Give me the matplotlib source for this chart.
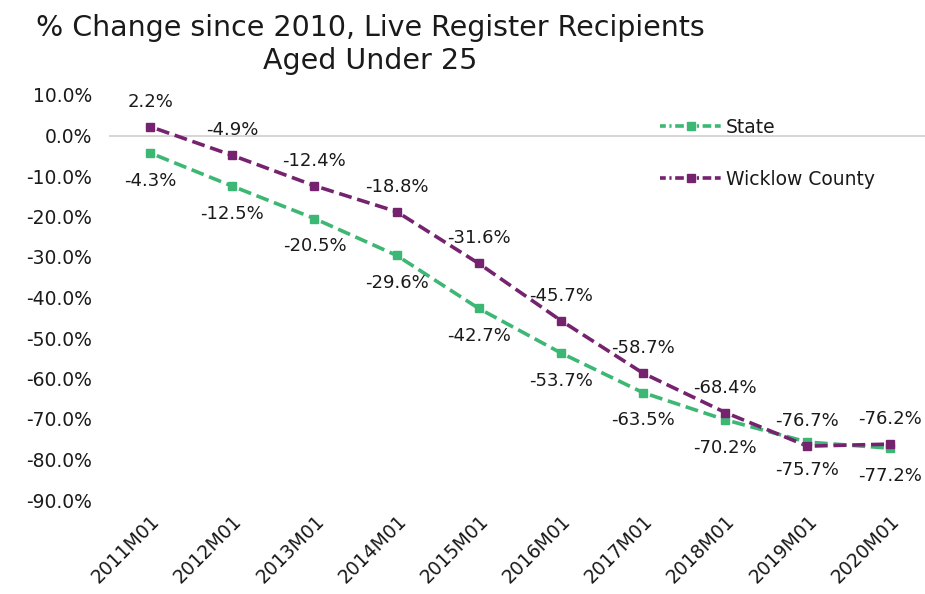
import matplotlib
matplotlib.use('Agg')
import matplotlib.pyplot as plt
from matplotlib.lines import Line2D

# data
periods = ['2011M01', '2012M01', '2013M01', '2014M01', '2015M01',
           '2016M01', '2017M01', '2018M01', '2019M01', '2020M01']
state = [-4.3, -12.5, -20.5, -29.6, -42.7, -53.7, -63.5, -70.2, -75.7, -77.2]
wicklow = [2.2, -4.9, -12.4, -18.8, -31.6, -45.7, -58.7, -68.4, -76.7, -76.2]
yticks = list(range(10, -100, -10))

plt.rcParams['font.family'] = ['DejaVu Sans']
plt.rcParams['text.color'] = '#1a1a1a'
green = '#3CB774'
purple = '#76236F'
# excel-style: every segment starts with a dot, then long dashes
dash = (0, (0.6, 1.4) + (3.6, 1.6) * 12)
lw = 2.6
ms = 5.6

fig = plt.figure(figsize=(9.25, 5.94), dpi=100)
ax = fig.add_axes([109 / 925, 1 - 500 / 594, 1 - 109 / 925, (500 - 95) / 594])

x = list(range(len(periods)))
for vals, col in [(state, green), (wicklow, purple)]:
    for i in range(len(x) - 1):
        ax.plot(x[i:i + 2], vals[i:i + 2], color=col, linestyle=dash,
                linewidth=lw, solid_capstyle='butt', dash_capstyle='butt')
    ax.plot(x, vals, color=col, linestyle='none', marker='s', markersize=ms, zorder=3)

for i in x:
    ax.annotate(f'{wicklow[i]:.1f}%', (i, wicklow[i]), xytext=(0, 18),
                textcoords='offset points', ha='center', va='center', fontsize=13)
    ax.annotate(f'{state[i]:.1f}%', (i, state[i]), xytext=(0, -20),
                textcoords='offset points', ha='center', va='center', fontsize=13)

ax.axhline(0, color='#d0d0d0', linewidth=1.2, zorder=0)
ax.set_xlim(-0.5, 9.43)
ax.set_ylim(-90, 10)
ax.set_yticks(yticks)
ax.set_yticklabels([f'{v:.1f}%' for v in yticks])
ax.set_xticks(x)
ax.set_xticklabels(periods, rotation=45, ha='right', rotation_mode='anchor')
ax.tick_params(axis='y', length=0, labelsize=13.5, pad=12, labelcolor='#1a1a1a')
ax.tick_params(axis='x', length=0, labelsize=13.5, pad=8, labelcolor='#1a1a1a')
for s in ax.spines.values():
    s.set_visible(False)

handles = [Line2D([], [], color=green, linestyle=(0, (1.6, 1.0, 0.6, 1.0, 2.4, 1.0)),
                  linewidth=lw, marker='s', markersize=ms),
           Line2D([], [], color=purple, linestyle=(0, (1.6, 1.0, 0.6, 1.0, 2.4, 1.0)),
                  linewidth=lw, marker='s', markersize=ms)]
ax.legend(handles, ['State', 'Wicklow County'], loc='upper left',
          bbox_to_anchor=(0.655, 0.985), frameon=False, fontsize=13.5,
          labelspacing=1.75, handlelength=3.3, handletextpad=0.2)

fig.text(370 / 925, 1 - 28 / 594, '% Change since 2010, Live Register Recipients',
         ha='center', va='center', fontsize=20.5)
fig.text(370 / 925, 1 - 61 / 594, 'Aged Under 25', ha='center', va='center', fontsize=20.5)

fig.savefig('out.png', dpi=100)
